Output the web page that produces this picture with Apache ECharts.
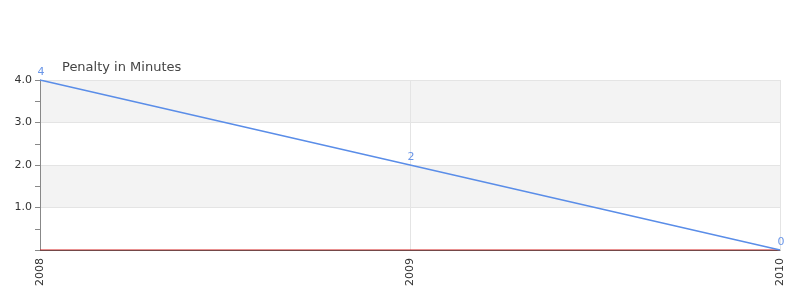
<!DOCTYPE html>
<html><head><meta charset="utf-8">
<script src="https://cdn.jsdelivr.net/npm/echarts@6/dist/echarts.min.js"></script>
<style>html,body{margin:0;padding:0;background:#fff}#c{width:800px;height:300px}</style>
</head><body><div id="c"></div>
<script>
const categories = ['2008', '2009', '2010'];
const penalty = [4, 2, 0];
const baseline = [0, 0, 0];
const chart = echarts.init(document.getElementById('c'));
chart.setOption({
  animation: false,
  title: { text: 'Penalty in Minutes', left: 57, top: 56, textStyle: { fontSize: 13, fontWeight: 'normal', color: '#444', fontFamily: 'DejaVu Sans' } },
  grid: { left: 40, right: 20, top: 80, bottom: 50 },
  xAxis: {
    type: 'category', data: categories, boundaryGap: false,
    axisLine: { lineStyle: { color: '#555', width: 1 } },
    axisTick: { show: false },
    axisLabel: { rotate: 90, color: '#333', fontSize: 11, fontFamily: 'DejaVu Sans', margin: 8 },
    splitLine: { show: true, lineStyle: { color: '#e4e4e4' } }
  },
  yAxis: {
    type: 'value', min: 0, max: 4, interval: 1,
    axisLine: { show: true, lineStyle: { color: '#888' } },
    axisTick: { show: true, length: 5, lineStyle: { color: '#888' } },
    minorTick: { show: true, splitNumber: 2, length: 5, lineStyle: { color: '#888' } },
    axisLabel: { color: '#333', fontSize: 11, fontFamily: 'DejaVu Sans', margin: 8,
      formatter: v => v === 0 ? '' : v.toFixed(1) },
    splitLine: { show: true, lineStyle: { color: '#e4e4e4' } },
    splitArea: { show: true, areaStyle: { color: ['#ffffff', '#f3f3f3'] } }
  },
  series: [
    { type: 'line', data: baseline, symbol: 'none', lineStyle: { color: '#d42020', width: 1 }, z: 3 },
    { type: 'line', data: penalty, symbol: 'circle', symbolSize: 2, showSymbol: true,
      itemStyle: { color: 'rgba(0,0,0,0)', borderWidth: 0 },
      lineStyle: { color: '#5a8de8', width: 1.5 },
      label: { show: true, position: 'top', color: '#6a96e8', fontSize: 11, fontFamily: 'DejaVu Sans', distance: 1, offset: [1, 0] }, z: 4 }
  ]
});
</script></body></html>
